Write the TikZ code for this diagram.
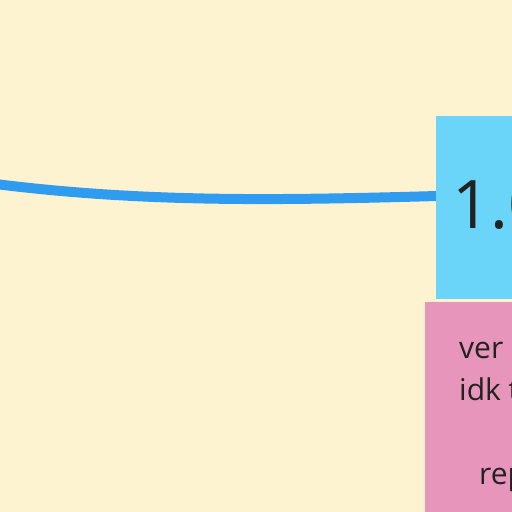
\documentclass[tikz,border=0pt]{standalone}
\usepackage{fontspec}
\setmainfont{Open Sans}
\usetikzlibrary{positioning}

\definecolor{board}{HTML}{FEF3D1}
\definecolor{cardblue}{HTML}{6AD5F8}
\definecolor{cardpink}{HTML}{E795BA}
\definecolor{linkblue}{HTML}{2F9CEF}
\definecolor{ink}{HTML}{222222}

\begin{document}
\begin{tikzpicture}[
  x=1pt, y=-1pt,
  card/.style={draw=none,rectangle,inner sep=0pt,anchor=north west},
  bigtext/.style={anchor=base west,inner sep=0pt,text=ink,font=\fontsize{67}{67}\selectfont},
  notetext/.style={anchor=base west,inner sep=0pt,text=ink,font=\fontsize{30}{42}\selectfont},
  link/.style={draw=linkblue,line width=10pt}
]
  \useasboundingbox (0,0) rectangle (512,512);
  \clip (0,0) rectangle (512,512);
  \fill[board] (0,0) rectangle (512,512);

  % link end points
  \coordinate (src) at (-20,182);
  \coordinate (vin) at (437,196);

  % link (drawn first, the card covers its end)
  \path[link] (src) .. controls (130,202) and (260,201) .. (vin);

  % cards
  \node[card,fill=cardblue,minimum width=120pt,minimum height=183pt] (ver) at (436,116) {};
  \node[card,fill=cardpink,minimum width=120pt,minimum height=230pt] (note) at (425,302) {};

  % texts
  \node[bigtext] (vlabel) at (452,228) {1.0};
  \node[notetext] (l1) at (459,358) {ver};
  \node[notetext] (l2) at (459,400) {idk t};
  \node[notetext] (l3) at (479,484) {rep};
\end{tikzpicture}
\end{document}
